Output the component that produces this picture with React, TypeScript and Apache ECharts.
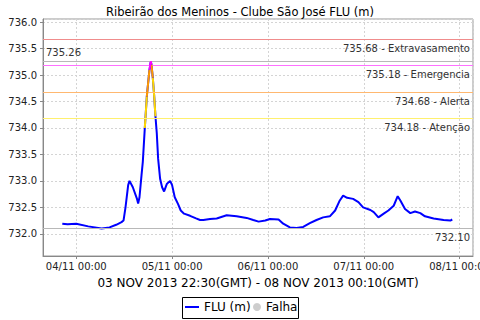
import React, { useEffect, useRef } from "react";
import * as echarts from "echarts";

const chartTitle = "Ribeirão dos Meninos - Clube São José FLU (m)";
const xAxisTitle = "03 NOV 2013 22:30(GMT) - 08 NOV 2013 00:10(GMT)";
const seriesName = "FLU (m)";
const failName = "Falha";

// local time "DD HH:MM" (November 2013)
const times = [
  "03 20:30", "03 21:50", "04 00:00", "04 03:00", "04 06:20", "04 08:20",
  "04 10:00", "04 11:20", "04 11:50", "04 12:20", "04 13:00", "04 13:20",
  "04 14:10", "04 15:10", "04 15:30", "04 15:50", "04 16:20", "04 16:40",
  "04 17:10", "04 17:40", "04 18:00", "04 18:20", "04 18:40", "04 18:50",
  "04 19:10", "04 19:30", "04 19:50", "04 20:10", "04 20:30", "04 21:00",
  "04 21:30", "04 22:00", "04 22:40", "04 23:30", "05 00:00", "05 00:40",
  "05 01:30", "05 02:10", "05 03:00", "05 04:30", "05 06:00", "05 07:00",
  "05 07:50", "05 09:30", "05 11:10", "05 13:40", "05 16:10", "05 18:40",
  "05 20:20", "05 21:40", "05 23:20", "06 00:30", "06 02:40", "06 03:50",
  "06 05:30", "06 07:10", "06 08:50", "06 10:30", "06 12:10", "06 13:50",
  "06 15:30", "06 16:50", "06 18:00", "06 18:50", "06 19:50", "06 21:20",
  "06 22:40", "06 23:50", "07 01:40", "07 02:30", "07 03:40", "07 05:00",
  "07 06:10", "07 07:30", "07 08:30", "07 09:10", "07 10:20", "07 11:40",
  "07 12:50", "07 14:10", "07 15:20", "07 17:30", "07 20:00", "07 21:40",
  "07 22:10",
];

const values = [
  732.19, 732.18, 732.19, 732.14, 732.10, 732.12,
  732.17, 732.22, 732.25, 732.50, 732.92, 733.00,
  732.88, 732.67, 732.57, 732.69, 733.10, 733.36,
  734.00, 734.59, 734.85, 735.10, 735.26, 735.20,
  734.95, 734.62, 734.22, 733.90, 733.42, 733.04,
  732.88, 732.80, 732.94, 733.00, 732.92, 732.69,
  732.56, 732.44, 732.38, 732.34, 732.29, 732.26,
  732.26, 732.28, 732.29, 732.35, 732.33, 732.30,
  732.26, 732.23, 732.25, 732.28, 732.27, 732.19,
  732.12, 732.11, 732.13, 732.20, 732.26, 732.31,
  732.33, 732.44, 732.63, 732.72, 732.68, 732.66,
  732.60, 732.50, 732.45, 732.41, 732.31, 732.38,
  732.44, 732.53, 732.71, 732.63, 732.47, 732.39,
  732.42, 732.39, 732.33, 732.29, 732.26, 732.25,
  732.27,
];

const thresholdValues = [735.68, 735.18, 734.68, 734.18];
const thresholdNames = ["Extravasamento", "Emergencia", "Alerta", "Atenção"];
const thresholdLineColors = ["#f08c8c", "#ff70ff", "#ffb870", "#fff06e"];

// level boundaries (ascending) and colour of the data line at each level
const levelBounds = [734.18, 734.68, 735.18];
const levelColors = ["#ffd800", "#ff9a00", "#ff00ff"];

const maxLabel = 735.26;
const minLabel = 732.1;

const xMinHours = -8.33;
const xMaxHours = 99.36;
const yMin = 731.58;
const yMax = 736.06;

const FONT = "DejaVu Sans";

function toHours(s: string): number {
  const [d, hm] = s.split(" ");
  const [h, m] = hm.split(":").map(Number);
  return (Number(d) - 4) * 24 + h + m / 60;
}

function levelOf(v: number): number {
  let l = 0;
  for (const b of levelBounds) if (v >= b) l++;
  return l;
}

export default function App() {
  const ref = useRef<HTMLDivElement>(null);

  useEffect(() => {
    if (!ref.current) return;
    const chart = echarts.init(ref.current, undefined, { renderer: "svg" });
    const xs = times.map(toHours);
    const mainData = xs.map((x, i) => [x, values[i]]);

    const overlaySeries = levelColors.map((color, li) => {
      const L = li + 1;
      const data = xs.map((x, j) => {
        const prev = j > 0 && levelOf(values[j]) === L;
        const next = j < values.length - 1 && levelOf(values[j + 1]) === L;
        return prev || next ? [x, values[j]] : [x, null];
      });
      return {
        type: "line",
        data,
        symbol: "none",
        connectNulls: false,
        lineStyle: { color, width: 2 },
        z: 4 + li,
        silent: true,
      };
    });

    const markData: any[] = thresholdValues.map((v, i) => ({
      yAxis: v,
      lineStyle: { color: thresholdLineColors[i], width: 1, type: "solid" },
      label: {
        formatter: `${v.toFixed(2)} - ${thresholdNames[i]}`,
        position: "insideEndBottom",
      },
    }));
    markData.push({
      yAxis: maxLabel,
      lineStyle: { color: "#b8b8b8", width: 1, type: "solid" },
      label: { formatter: maxLabel.toFixed(2), position: "insideStartTop" },
    });
    markData.push({
      yAxis: minLabel,
      lineStyle: { color: "#b8b8b8", width: 1, type: "solid" },
      label: { formatter: minLabel.toFixed(2), position: "insideEndBottom" },
    });

    chart.setOption({
      animation: false,
      backgroundColor: "#ffffff",
      title: {
        text: chartTitle,
        left: "center",
        top: 1,
        textStyle: { fontFamily: FONT, fontSize: 11.5, fontWeight: "normal", color: "#000" },
      },
      grid: {
        left: 43,
        right: 7,
        top: 19,
        bottom: 64,
        show: true,
        borderColor: "#999",
        borderWidth: 1,
        backgroundColor: "#fff",
        containLabel: false,
        outerBoundsMode: "none",
      },
      legend: [
        {
          data: [{ name: seriesName, icon: "rect" }],
          left: 185,
          top: 301,
          padding: 0,
          itemWidth: 14,
          itemHeight: 2,
          itemGap: 0,
          textStyle: { fontFamily: FONT, fontSize: 12, color: "#000" },
        },
        {
          data: [{ name: failName, icon: "circle" }],
          left: 253,
          top: 301,
          padding: 0,
          itemWidth: 8,
          itemHeight: 8,
          itemGap: 0,
          textStyle: { fontFamily: FONT, fontSize: 12, color: "#000" },
        },
      ],
      graphic: [
        {
          type: "rect",
          shape: { x: 182.5, y: 297.5, width: 116, height: 21 },
          style: { fill: "none", stroke: "#000", lineWidth: 1 },
          silent: true,
        },
      ],
      xAxis: {
        type: "value",
        min: xMinHours,
        max: xMaxHours,
        minInterval: 24,
        maxInterval: 24,
        name: xAxisTitle,
        nameLocation: "middle",
        nameGap: 21,
        nameTextStyle: { fontFamily: FONT, fontSize: 12, color: "#000" },
        axisLine: { show: true, onZero: false, lineStyle: { color: "#888", width: 1 } },
        axisTick: { show: true, length: 3, lineStyle: { color: "#888" } },
        axisLabel: {
          showMinLabel: false,
          showMaxLabel: false,
          hideOverlap: false,
          fontFamily: FONT,
          fontSize: 10,
          color: "#222",
          margin: 5,
          formatter: (v: number) => {
            const d = 4 + Math.round(v / 24);
            return `${String(d).padStart(2, "0")}/11 00:00`;
          },
        },
        splitLine: { show: true, lineStyle: { color: "#d4d4d4", type: [2, 2], width: 1 } },
      },
      yAxis: {
        type: "value",
        min: yMin,
        max: yMax,
        minInterval: 0.5,
        maxInterval: 0.5,
        axisLine: { show: true, onZero: false, lineStyle: { color: "#888", width: 1 } },
        axisTick: { show: true, length: 3, lineStyle: { color: "#888" } },
        axisLabel: {
          showMinLabel: false,
          showMaxLabel: false,
          fontFamily: FONT,
          fontSize: 10,
          color: "#222",
          margin: 6,
          formatter: (v: number) => v.toFixed(1),
        },
        splitLine: { show: true, lineStyle: { color: "#d4d4d4", type: [2, 2], width: 1 } },
      },
      series: [
        {
          type: "line",
          name: "__marks",
          data: mainData,
          symbol: "none",
          lineStyle: { opacity: 0 },
          z: 1,
          silent: true,
          markLine: {
            silent: true,
            symbol: "none",
            animation: false,
            label: {
              fontFamily: FONT,
              fontSize: 10,
              color: "#333",
              distance: [3, 4],
            },
            data: markData,
          },
        },
        {
          type: "line",
          name: seriesName,
          data: mainData,
          symbol: "none",
          lineStyle: { color: "#0000ff", width: 2 },
          itemStyle: { color: "#0000ff" },
          z: 3,
        },
        ...overlaySeries,
        {
          type: "scatter",
          name: failName,
          data: [],
          itemStyle: { color: "#c0c0c0" },
        },
      ],
    } as any);

    return () => chart.dispose();
  }, []);

  return (
    <div
      ref={ref}
      style={{ position: "fixed", left: 0, top: 0, width: 480, height: 320 }}
    />
  );
}
